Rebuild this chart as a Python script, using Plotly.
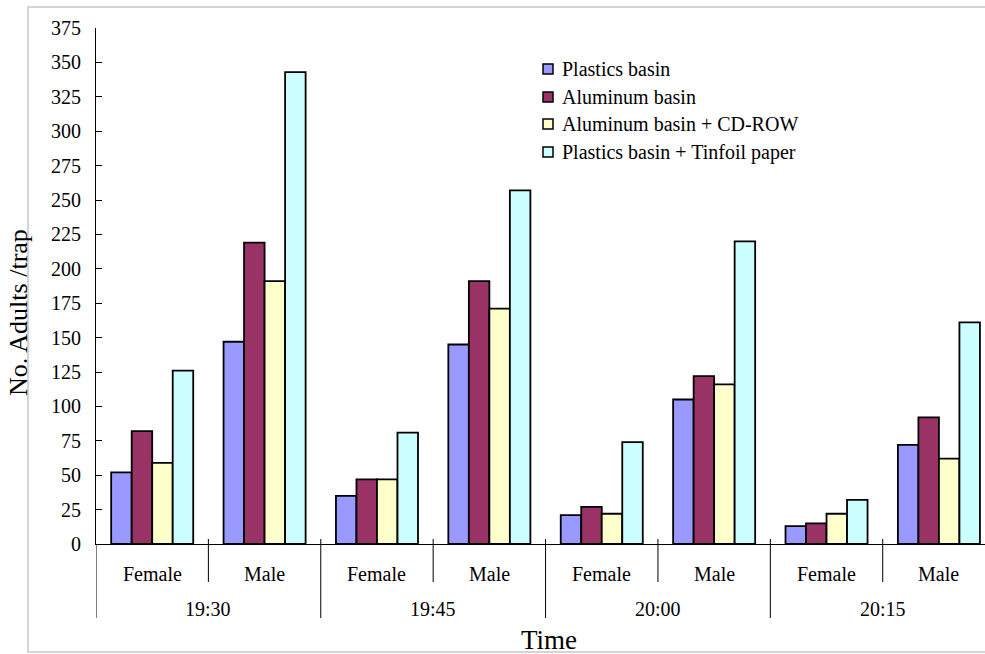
import plotly.graph_objects as go

# Trap catches per time slot and sex
times = ["19:30", "19:45", "20:00", "20:15"]
sexes = ["Female", "Male"]

plastics = [52, 147, 35, 145, 21, 105, 13, 72]
aluminum = [82, 219, 47, 191, 27, 122, 15, 92]
aluminum_cd = [59, 191, 47, 171, 22, 116, 22, 62]
plastics_tinfoil = [126, 343, 81, 257, 74, 220, 32, 161]

series_names = [
    "Plastics basin",
    "Aluminum basin",
    "Aluminum basin + CD-ROW",
    "Plastics basin + Tinfoil paper",
]
series_values = [plastics, aluminum, aluminum_cd, plastics_tinfoil]
series_colors = ["#9999FF", "#993366", "#FFFFCC", "#CCFFFF"]

y_ticks = list(range(0, 376, 25))

W, H = 985, 654
ML, MR, MT, MB = 96, 0, 28, 110
PW, PH = W - ML - MR, H - MT - MB


def py(p):
    """Pixel row -> paper y."""
    return (H - MB - p) / PH


def px(p):
    """Pixel column -> paper x."""
    return (p - ML) / PW


FONT = "Liberation Serif, Times New Roman, serif"
positions = list(range(len(times) * len(sexes)))

fig = go.Figure()
for name, vals, col in zip(series_names, series_values, series_colors):
    fig.add_trace(go.Bar(
        x=positions, y=vals, name=name, showlegend=False,
        marker=dict(color=col, line=dict(color="black", width=1.8)),
    ))

shapes = []
annotations = []

# outer frame
shapes.append(dict(type="rect", xref="paper", yref="paper",
                   x0=px(28), x1=px(1000), y0=py(652), y1=py(7),
                   line=dict(color="#C8C8C8", width=1.5), layer="below"))

# category separators below the axis
for k in range(len(positions) + 1):
    xb = k - 0.5
    if xb > 7.41:
        continue
    long_line = (k % 2 == 0)
    top = 544 if k == 0 else 539
    bottom = 618 if long_line else 582
    shapes.append(dict(type="line", xref="x", yref="paper",
                       x0=xb, x1=xb, y0=py(bottom), y1=py(top),
                       line=dict(color="black", width=1)))

# sex labels
for i in positions:
    annotations.append(dict(x=i, y=py(574), xref="x", yref="paper",
                            xanchor="center", yanchor="middle",
                            text=sexes[i % 2], showarrow=False,
                            font=dict(family=FONT, size=20, color="black")))
# time labels
for j, t in enumerate(times):
    annotations.append(dict(x=2 * j + 0.5, y=py(609), xref="x", yref="paper",
                            xanchor="center", yanchor="middle",
                            text=t, showarrow=False,
                            font=dict(family=FONT, size=20, color="black")))

# axis titles
annotations.append(dict(x=px(549), y=py(640), xref="paper", yref="paper",
                        xanchor="center", yanchor="middle",
                        text="Time", showarrow=False,
                        font=dict(family=FONT, size=27, color="black")))
annotations.append(dict(x=px(18), y=py(313), xref="paper", yref="paper",
                        xanchor="center", yanchor="middle",
                        text="No. Adults /trap", showarrow=False, textangle=-90,
                        font=dict(family=FONT, size=26, color="black")))

# legend: swatch + label per series
legend_rows = [69, 97, 124, 152]
for name, col, row in zip(series_names, series_colors, legend_rows):
    shapes.append(dict(type="rect", xref="paper", yref="paper",
                       x0=px(543), x1=px(553), y0=py(row + 5), y1=py(row - 5),
                       fillcolor=col, line=dict(color="black", width=1.5)))
    annotations.append(dict(x=px(560), y=py(row), xref="paper", yref="paper",
                            xanchor="left", yanchor="middle",
                            text=name, showarrow=False,
                            font=dict(family=FONT, size=20, color="black")))

fig.update_layout(
    width=W, height=H,
    margin=dict(l=ML, r=MR, t=MT, b=MB),
    paper_bgcolor="white", plot_bgcolor="white",
    barmode="group", bargap=0.27, bargroupgap=0,
    shapes=shapes, annotations=annotations,
    font=dict(family=FONT, size=20, color="black"),
    showlegend=False,
)
fig.update_xaxes(range=[-0.5, 7.41], showticklabels=False, ticks="",
                 showgrid=False, zeroline=False, showline=True,
                 linecolor="black", linewidth=1)
fig.update_yaxes(range=[0, 375], tickvals=y_ticks, ticks="inside", ticklen=6,
                 tickcolor="black", showgrid=False, zeroline=False,
                 showline=True, linecolor="black", linewidth=1,
                 ticklabelstandoff=10,
                 tickfont=dict(family=FONT, size=20, color="black"))

fig.write_html("out.html")
